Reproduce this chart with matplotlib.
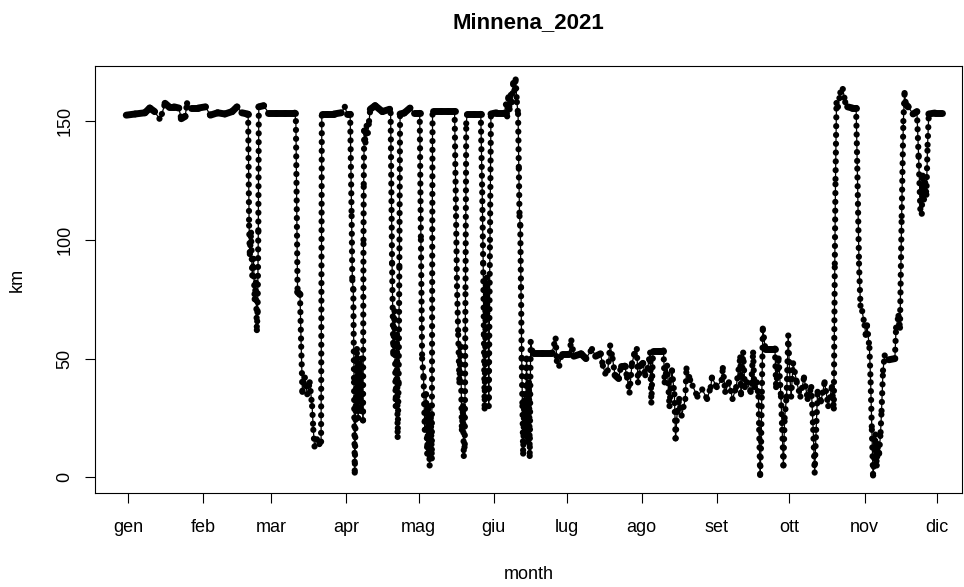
import matplotlib.pyplot as plt
import numpy as np
from matplotlib.collections import LineCollection

plt.rcParams['font.family'] = ['Liberation Sans', 'DejaVu Sans']

months = ['gen', 'feb', 'mar', 'apr', 'mag', 'giu',
          'lug', 'ago', 'set', 'ott', 'nov', 'dic']
month_start = [1, 32, 60, 91, 121, 152, 182, 213, 244, 274, 305, 335]

# day of year / km
day_winter = [0.3, 4, 8, 10, 12, 14, 15, 16.3, 18, 20, 22, 23, 24.6, 25.4,
              27, 30, 33, 35, 38, 41, 44, 46, 48, 50.3]
km_winter = [152.5, 153, 153.5, 155.5, 154, 151, 153, 157.5, 156, 156, 155.5,
             151, 152, 157.5, 155.5, 155.5, 156, 152.5, 153.5, 153, 154, 156,
             153.5, 153]

day_spring = [50.6, 51.0, 51.3, 51.8, 52.3, 52.8, 53.3, 53.8, 54.2, 54.5, 54.8,
              55.0, 57, 59, 62, 66, 69.8,
              70.3, 71.0, 72.0, 72.5, 73.0, 74, 75, 76, 77, 77.5, 78, 79, 80,
              80.7, 81.0, 83, 86, 89, 90.5, 91.5, 92.7,
              93.3, 93.6, 94.0, 94.3, 94.6, 95.0, 95.5, 96, 96.5, 97, 97.5, 98,
              98.2, 98.3, 98.5, 99, 99.5, 100, 100.5, 101, 103, 106, 109,
              109.4, 110, 110.5, 111, 111.5, 112, 112.3, 112.7, 113.0, 113.3,
              115, 117.4, 119, 121.4,
              121.9, 122.4, 123, 123.5, 124, 124.5, 125, 125.5, 126, 126.4,
              126.7, 130, 133, 135.8,
              136.4, 136.8, 137.3, 137.8, 138.3, 138.8, 139.3, 139.6, 140,
              140.3, 140.6, 141, 144, 146.6,
              147.2, 147.6, 147.9, 148.2, 148.6, 149.0, 149.3, 149.6, 149.9,
              150.4, 150.8, 153, 156.4,
              157, 157.5, 158, 158.5, 159, 159.5, 160, 160.5, 161, 161.5, 162,
              162.3, 162.6, 162.9, 163.2, 163.5, 163.8, 164.1, 164.6, 165.0,
              165.5, 166, 166.5, 166.8, 167.2]
km_spring = [153, 106, 94, 103, 85, 92, 75, 82, 62, 70, 104,
             156, 156.5, 153.5, 153.5, 153.5, 153.5,
             150, 78, 77, 55, 36, 42, 35, 40, 30, 20, 13, 16, 14,
             15, 153, 153, 153, 153.5, 156, 153, 153,
             110, 83, 79, 40, 2, 30, 54, 25, 48, 28, 50, 24,
             100, 123.5, 146, 141, 148, 145, 150, 155, 156.5, 154, 155,
             153.4, 90, 52, 70, 30, 60, 17, 40, 89, 153,
             153.4, 155.5, 153.4, 153.4,
             100, 50, 42, 20, 35, 10, 30, 5, 25, 8,
             154.2, 154.2, 154.2, 154.2,
             110, 80.5, 60, 40, 55, 20, 30, 9, 14,
             80, 149, 153, 153, 153,
             120, 90, 60, 29, 70, 84, 67, 78, 30,
             100, 153, 153.5, 153.5,
             157, 152, 160, 155, 161, 158, 166, 163, 167.5, 158, 153,
             130, 110, 106, 80, 50, 30, 10, 35, 20,
             50, 15, 40, 9, 57]

day_summer = [168, 172, 176, 177.5, 178, 179, 180, 183, 184, 185, 188, 190,
              192.5, 194, 196, 197, 198, 199, 200, 201, 202, 203.5, 204.5, 206,
              207, 208, 209, 210, 211, 211.5, 212.5, 213.5, 214.5, 215.5,
              216.5, 217, 217.7, 220, 222, 222.5, 223.5, 224.5, 225.5, 226.5,
              227, 227.7, 228.5, 229.5, 231, 231.5, 233, 234, 236, 238, 240,
              241.5, 242, 244, 246, 246.5, 247.5, 249, 250.5, 252, 253.7, 254,
              254.9, 255.6]
km_summer = [52.5, 52.5, 52.5, 58.4, 49, 47, 52, 52, 57.6, 51, 52, 50,
             54, 51, 52, 47, 43.7, 45, 55.5, 50, 43, 41.6, 47, 47,
             42, 35.7, 48, 52, 54, 40, 47, 48, 43, 46,
             52.5, 31.5, 53.4, 53.4, 53.4, 40, 47, 30, 45, 35,
             16.4, 28, 33, 26, 33, 45.8, 41, 38.6, 34, 37, 33,
             38, 42, 38, 41, 46, 36, 40, 33, 38, 50.5, 35,
             52.5, 38]

day_autumn = [256.5, 258, 259, 259.5, 260.5, 261.2, 261.5, 261.9, 262.3, 262.6,
              263, 264, 266, 268, 268.5, 269.5, 270.5, 271, 271.5, 272, 272.8,
              273.5, 274, 274.7, 275.5, 277, 278.5, 280, 281.5, 283, 283.8,
              284.4, 285, 285.6, 287, 288.5, 290, 291.5, 292.3, 292.7, 293.0,
              293.4, 294, 295, 296, 297, 298, 300, 301.5,
              302.0, 302.7, 303.3, 304, 305, 305.5, 306, 307, 307.5, 308, 308.5,
              309, 309.5, 310, 310.5, 311, 311.6, 312, 312.6, 313.3, 315, 317.5,
              318, 319, 319.6, 320.3, 321, 321.5, 322, 323, 325, 326.6, 327.3,
              328, 328.6, 329, 329.5, 330, 330.5, 331, 331.5, 334, 337]
km_autumn = [40, 36, 52.5, 38, 40, 34, 20, 1, 15, 36,
             62.6, 54.2, 54.2, 54.2, 38, 50, 34, 20, 5, 25, 34,
             59.7, 45, 34, 48, 40, 34, 42, 33, 38, 20,
             2, 20, 36, 32, 40, 30, 38, 29, 90, 125.6,
             157.6, 156, 162, 163.5, 158, 156, 155.5, 155.5,
             130, 90, 72.3, 70, 64, 60, 64, 54.5, 40, 20, 0.8,
             8, 18, 5, 14, 10, 19, 28, 45, 51.3, 49.5, 50,
             63, 68, 63, 110, 150, 161.8, 157, 156, 153, 154, 135,
             113, 111, 127, 117, 124, 119, 140, 153, 153.4, 153.4]

day = np.concatenate([day_winter, day_spring, day_summer, day_autumn])
km = np.concatenate([km_winter, km_spring, km_summer, km_autumn])

fig = plt.figure(figsize=(9.64, 5.87), dpi=100)
ax = fig.add_axes([95 / 964, 94 / 587, 867 / 964, 427 / 587])

pts = np.column_stack([day, km])
segs = np.stack([pts[:-1], pts[1:]], axis=1)
# steep jumps look like chains of dots, steady stretches like a solid band
steep = np.abs(np.diff(km)) > 1.02 * np.abs(np.diff(day))

ax.add_collection(LineCollection(segs[~steep], colors='k', linewidths=5,
                                 capstyle='round', joinstyle='round'))
ax.add_collection(LineCollection(segs[steep], colors='k', linewidths=0.9))
ax.add_collection(LineCollection(segs[steep], colors='k', linewidths=4.5,
                                 linestyles=[(0, (0.01, 1.4))],
                                 capstyle='round'))

ax.set_xlim(-12.6, 345.2)
ax.set_ylim(-6.6, 173.2)
ax.set_xticks(month_start, months)
ax.set_yticks([0, 50, 100, 150])
ax.tick_params(length=7.5, width=0.8, labelsize=13)
ax.tick_params(axis='x', pad=11)
ax.tick_params(axis='y', pad=8)
for lbl in ax.get_yticklabels():
    lbl.set_rotation(90)
    lbl.set_va('center')
for sp in ax.spines.values():
    sp.set_linewidth(0.8)

ax.set_xlabel('month', fontsize=13, labelpad=22)
ax.set_ylabel('km', fontsize=13, labelpad=22)
ax.set_title('Minnena_2021', fontsize=16, fontweight='bold', pad=27)

fig.savefig('out.png', dpi=100)
